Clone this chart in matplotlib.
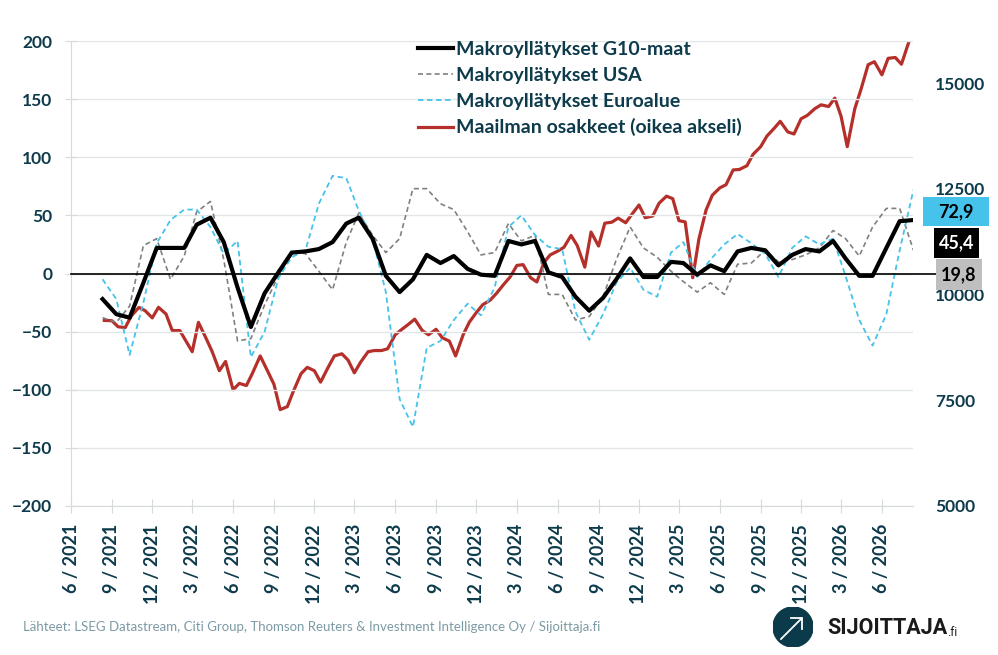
import matplotlib
matplotlib.use("Agg")
import matplotlib.pyplot as plt
import matplotlib.dates as mdates
from matplotlib.patches import Rectangle, Circle
import numpy as np
import pandas as pd

# kuukausittaiset makroyllätykset (puolivälissä kuukautta)
g10 = [-22, -35, -38, -8, 22, 22, 22, 42, 48, 27, -12, -46, -17, 1, 18, 19, 21, 27, 43, 48,
       30, -2, -16, -5, 16, 9, 15, 4, -1, -2, 28, 25, 28, 1, -3, -20, -32, -21, -5, 13,
       -3, -3, 10, 9, -1, 7, 2, 19, 22, 20, 7, 16, 21, 19, 28, 13, -2, -2, 22, 45, 46]
usa = [-38, -42, -28, 24, 30, -5, 15, 53, 62, 12, -58, -56, -27, -2, 19, 17, 2, -14, 27, 52,
       33, 18, 30, 73, 73, 60, 55, 36, 16, 18, 43, 28, 33, -18, -18, -40, -37, -20, 12, 40,
       22, 14, 2, -7, -16, -8, -18, 8, 9, 20, 10, 12, 16, 22, 37, 30, 15, 40, 56, 56, 20]
euro = [-5, -22, -70, -25, 26, 46, 55, 55, 40, 17, 28, -72, -50, -4, 14, 20, 60, 84, 82, 54,
        30, -16, -108, -132, -64, -58, -40, -26, -36, -12, 40, 50, 33, 23, 21, -33, -57, -35, -8, 5,
        -14, -20, 18, 27, -3, 12, 25, 34, 26, 17, -3, 22, 32, 25, 30, -2, -40, -62, -35, 20, 72]

# maailman osakkeet, kahden viikon välein
osakkeet = [9390, 9384, 9240, 9220, 9500, 9697, 9620, 9450, 9700, 9541,
            9150, 9150, 8900, 8650, 9344, 8970, 8650, 8200, 8420, 7750,
            7900, 7850, 8150, 8550, 8250, 7880, 7280, 7350, 7720, 8130,
            8280, 8200, 7930, 8280, 8550, 8600, 8450, 8150, 8400, 8650,
            8677, 8677, 8720, 9050, 9170, 9300, 9420, 9150, 9050, 9180,
            8980, 8900, 8550, 9050, 9350, 9580, 9760, 9870, 10030, 10250,
            10420, 10690, 10710, 10400, 10300, 10760, 10940, 11030, 11120, 11400,
            11160, 10650, 11480, 11150, 11690, 11715, 11810, 11700, 11900, 12120,
            11820, 11860, 12160, 12330, 12270, 11750, 11720, 10400, 11320, 12000,
            12350, 12526, 12600, 12950, 12960, 13050, 13320, 13500, 13750, 13930,
            14100, 13850, 13800, 14160, 14240, 14400, 14490, 14450, 14650, 14220,
            13500, 14400, 14860, 15440, 15510, 15200, 15590, 15610, 15450, 15990]

viimeiset = {"euro": "72,9", "g10": "45,4", "usa": "19,8"}

paivat_kk = pd.date_range("2021-08-01", periods=len(g10), freq="MS") + pd.Timedelta(days=10)
paivat_2vk = pd.date_range("2021-08-15", periods=len(osakkeet), freq="SMS")

teal = "#0E3B4C"
plt.rcParams["font.family"] = ["Lato", "DejaVu Sans"]

fig = plt.figure(figsize=(9.98, 6.55), dpi=100)
ax = fig.add_axes([71 / 998, 1 - 506 / 655, (913 - 71) / 998, (506 - 41) / 655])
ax2 = ax.twinx()

l_red, = ax2.plot(paivat_2vk, osakkeet, color="#B5302A", lw=2.3, zorder=2)
l_usa, = ax.plot(paivat_kk, usa, color="#808080", lw=1.2, ls=(0, (3, 2)), zorder=3)
l_eur, = ax.plot(paivat_kk, euro, color="#45C3EA", lw=1.3, ls=(0, (3, 2)), zorder=3)
l_g10, = ax.plot(paivat_kk, g10, color="black", lw=3.0, zorder=4)
ax.set_zorder(ax2.get_zorder() + 1)
ax.patch.set_visible(False)

ax.axhline(0, xmin=0, xmax=(936 - 71) / (913 - 71), color="black", lw=1.2, clip_on=False, zorder=5)

ax.set_xlim(pd.Timestamp("2021-06-01"), pd.Timestamp("2026-08-10"))
ax.set_ylim(-200, 200)
ax2.set_ylim(5000, 16000)
ax.set_yticks(np.arange(-200, 201, 50))
ax2.set_yticks([5000, 7500, 10000, 12500, 15000])
ax.grid(axis="y", color="#E3E6E8", lw=1)

ax.xaxis.set_major_locator(mdates.MonthLocator(bymonth=[3, 6, 9, 12]))
ax.xaxis.set_major_formatter(plt.FuncFormatter(
    lambda v, p: "%d / %d" % (mdates.num2date(v).month, mdates.num2date(v).year)))

for s in ["top", "right"]:
    ax.spines[s].set_visible(False)
for s in ax2.spines.values():
    s.set_visible(False)
ax.spines["left"].set_color("#D5DADD")
ax.spines["bottom"].set_color("#D5DADD")

ax.tick_params(axis="x", direction="inout", length=10, color="#D5DADD", pad=8,
               labelrotation=90, labelsize=13, labelcolor=teal)
ax.tick_params(axis="y", direction="inout", length=9, color="#D5DADD", pad=9,
               labelsize=12.5, labelcolor=teal)
ax2.tick_params(axis="y", length=0, pad=16, labelsize=12.5, labelcolor=teal)
for t in ax.get_xticklabels() + ax.get_yticklabels() + ax2.get_yticklabels():
    t.set_fontweight("bold")

leg = ax.legend([l_g10, l_usa, l_eur, l_red],
                ["Makroyllätykset G10-maat", "Makroyllätykset USA",
                 "Makroyllätykset Euroalue", "Maailman osakkeet (oikea akseli)"],
                loc="upper left", bbox_to_anchor=(0.412, 1.0), frameon=False,
                borderpad=0, borderaxespad=0, handlelength=1.8, handletextpad=0.15,
                labelspacing=0.45, prop={"size": 14, "weight": "bold"})
for t in leg.get_texts():
    t.set_color(teal)


def laatikko(x0, y0, x1, y1, teksti, tausta, vari):
    fig.patches.append(Rectangle((x0 / 998, 1 - y1 / 655), (x1 - x0) / 998, (y1 - y0) / 655,
                                 transform=fig.transFigure, facecolor=tausta, edgecolor="none"))
    fig.text((x0 + x1) / 2 / 998, 1 - (y0 + y1) / 2 / 655, teksti, ha="center", va="center",
             fontsize=13, fontweight="bold", color=vari)


laatikko(923, 197, 989, 226, viimeiset["euro"], "#45C3EA", "black")
laatikko(934, 228, 979, 258, viimeiset["g10"], "black", "white")
laatikko(936, 259, 982, 290, viimeiset["usa"], "#BFBFBF", "black")

fig.text(23 / 998, 1 - 627 / 655,
         "Lähteet: LSEG Datastream, Citi Group, Thomson Reuters & Investment Intelligence Oy / Sijoittaja.fi",
         fontsize=9.5, color="#7C9AA5", va="center")

# logo
lax = fig.add_axes([773 / 998, 1 - 647 / 655, 40 / 998, 40 / 655])
lax.set_xlim(0, 1)
lax.set_ylim(0, 1)
lax.axis("off")
lax.add_patch(Circle((0.5, 0.5), 0.5, color="#0B3A4A"))
lax.plot([0.2, 0.72], [0.2, 0.72], color="white", lw=1.3)
lax.plot([0.44, 0.72, 0.72], [0.72, 0.72, 0.44], color="white", lw=1.3)
fig.text(827 / 998, 1 - 628 / 655, "SIJOITTAJA", fontsize=15.5, fontweight="bold",
         family="Roboto", color="#1A1A1A", va="center")
fig.text(947 / 998, 1 - 632 / 655, ".fi", fontsize=8.5, family="Roboto", color="#1A1A1A", va="center")

fig.savefig("out.png", dpi=100)
